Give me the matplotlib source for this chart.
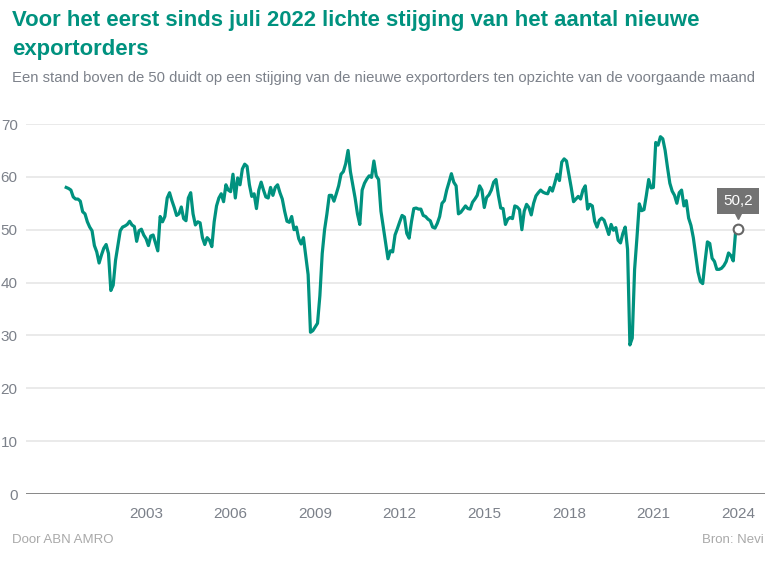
import numpy as np
import matplotlib
matplotlib.use("Agg")
import matplotlib.pyplot as plt
from matplotlib import font_manager
import matplotlib.transforms as mtransforms

# Nevi PMI nieuwe exportorders, maandelijks vanaf maart 2000 t/m januari 2024
start_year = 2000
start_month = 3
export_orders = [
    58.0, 57.8, 57.5, 56.2, 55.8, 55.8, 55.4, 53.4, 53.0, 51.5,
    50.5, 49.8, 47.0, 45.8, 43.7, 45.2, 46.5, 47.2, 45.5, 38.5,
    39.5, 44.2, 47.0, 49.8, 50.5, 50.7, 51.0, 51.6, 50.9, 50.6,
    47.8, 49.8, 50.1, 49.0, 48.3, 47.0, 48.8, 49.0, 47.5, 46.0,
    52.5, 51.5, 52.5, 56.0, 57.0, 55.5, 54.2, 52.7, 53.0, 54.3,
    52.1, 51.7, 56.0, 57.0, 53.0, 50.9, 51.5, 51.3, 48.5, 47.2,
    48.5, 48.0, 46.8, 51.5, 54.5, 56.0, 56.8, 55.3, 58.5, 57.5,
    57.2, 60.5, 56.0, 59.8, 58.5, 61.5, 62.4, 62.0, 58.5, 56.3,
    56.8, 54.0, 57.5, 59.0, 57.5, 56.2, 56.0, 58.0, 56.5, 58.0,
    58.5, 57.0, 55.8, 53.5, 51.6, 51.4, 52.5, 50.0, 50.5, 48.3,
    47.3, 48.5, 45.0, 41.5, 30.6, 30.9, 31.6, 32.3, 37.5, 45.5,
    50.0, 53.0, 56.5, 56.5, 55.4, 56.8, 58.3, 60.5, 61.0, 62.5,
    65.0, 61.0, 58.5, 56.0, 53.0, 51.0, 57.5, 58.8, 59.6, 60.2,
    59.9, 63.0, 60.2, 59.5, 53.5, 50.5, 47.5, 44.5, 46.0, 45.8,
    49.0, 50.2, 51.5, 52.7, 52.4, 49.3, 48.4, 51.5, 54.0, 54.1,
    53.9, 53.9, 52.7, 52.5, 52.0, 51.7, 50.5, 50.3, 51.2, 52.5,
    55.0, 55.5, 57.5, 59.0, 60.6, 59.0, 58.3, 53.0, 53.3, 53.9,
    54.5, 54.0, 53.9, 55.2, 55.8, 56.5, 58.3, 57.5, 54.2, 56.1,
    56.6, 57.5, 59.0, 59.5, 56.5, 54.1, 54.0, 51.0, 52.0, 52.3,
    52.1, 54.5, 54.3, 53.8, 50.0, 53.5, 54.8, 54.2, 52.8, 55.0,
    56.4, 57.0, 57.5, 57.1, 56.9, 56.8, 58.0, 57.3, 58.8, 60.5,
    59.3, 62.8, 63.4, 63.0, 60.5, 58.0, 55.3, 55.8, 56.3, 55.8,
    57.5, 58.3, 53.9, 54.8, 54.5, 51.6, 50.5, 51.8, 52.2, 51.8,
    50.5, 49.1, 51.0, 49.9, 50.4, 48.0, 47.5, 49.3, 50.5, 46.3,
    28.2, 29.5, 42.5, 48.5, 54.9, 53.6, 53.8, 56.5, 59.5, 57.9,
    58.0, 66.5, 66.0, 67.6, 67.2, 65.0, 61.8, 58.8, 57.3, 56.5,
    55.0, 57.0, 57.5, 54.5, 55.5, 52.2, 50.8, 48.5, 45.2, 42.0,
    40.2, 39.8, 44.0, 47.7, 47.4, 44.6, 44.0, 42.5, 42.5, 42.7,
    43.2, 44.0, 45.6, 45.1, 44.1, 49.6, 50.2,
]
tick_years = [2003, 2006, 2009, 2012, 2015, 2018, 2021, 2024]
y_ticks = [0, 10, 20, 30, 40, 50, 60, 70]

title = "Voor het eerst sinds juli 2022 lichte stijging van het aantal nieuwe\nexportorders"
subtitle = ("Een stand boven de 50 duidt op een stijging van de nieuwe exportorders "
            "ten opzichte van de voorgaande maand")

installed = {f.name for f in font_manager.fontManager.ttflist}
narrow = "Liberation Sans Narrow" if "Liberation Sans Narrow" in installed else "Liberation Sans"
plt.rcParams["font.family"] = [narrow, "DejaVu Sans"]

teal = "#00927f"
grey_text = "#7c818a"

months = np.arange(len(export_orders))
x = start_year + (start_month - 1 + months) / 12.0

fig = plt.figure(figsize=(7.72, 5.75), dpi=100)
ax = fig.add_axes([26 / 772, 81 / 575, (765 - 26) / 772, (494 - 124) / 575])

ax.plot(x, export_orders, color=teal, linewidth=2.3, solid_joinstyle="round", zorder=3)

ax.set_xlim(1998.74, 2024.96)
ax.set_ylim(0, 70)
ax.set_yticks(y_ticks)
ax.set_xticks(tick_years)
ax.set_xticklabels([str(t) for t in tick_years])
ax.grid(axis="y", color="#e6e6e6", linewidth=1.2)
ax.axhline(0, color="#7f7f7f", linewidth=2.0, zorder=2)
for s in ax.spines.values():
    s.set_visible(False)
ax.tick_params(axis="both", length=0, labelsize=11, labelcolor=grey_text)
ax.tick_params(axis="y", pad=6)
ax.tick_params(axis="x", pad=9)

# laatste waarde met label
last_x, last_y = x[-1], export_orders[-1]
ax.plot(last_x, last_y, marker="o", markersize=7, markerfacecolor="white",
        markeredgecolor="#666666", markeredgewidth=1.5, zorder=5, clip_on=False)
ax.annotate(f"{last_y:.1f}".replace(".", ","), (last_x, last_y), xytext=(0, 15),
            textcoords="offset points", ha="center", va="bottom", color="white",
            fontsize=11, zorder=6,
            bbox=dict(boxstyle="square,pad=0.4", facecolor="#737373", edgecolor="none"))
tri = mtransforms.offset_copy(ax.transData, fig=fig, x=0, y=9, units="points")
ax.plot(last_x, last_y, marker="v", markersize=5, color="#737373", transform=tri,
        zorder=6, clip_on=False)

fig.text(12 / 772, 1 - 10 / 575, title, ha="left", va="top", color=teal,
         fontsize=15.9, fontweight="bold", linespacing=1.5)
fig.text(12 / 772, 1 - 78 / 575, subtitle, ha="left", va="center", color=grey_text,
         fontsize=10.7)
fig.text(12 / 772, 1 - 540 / 575, "Door ABN AMRO", ha="left", va="center",
         color="#a9a9a9", fontsize=9.5)
fig.text(764 / 772, 1 - 540 / 575, "Bron: Nevi", ha="right", va="center",
         color="#a9a9a9", fontsize=9.5)

fig.savefig("out.png", dpi=100)
